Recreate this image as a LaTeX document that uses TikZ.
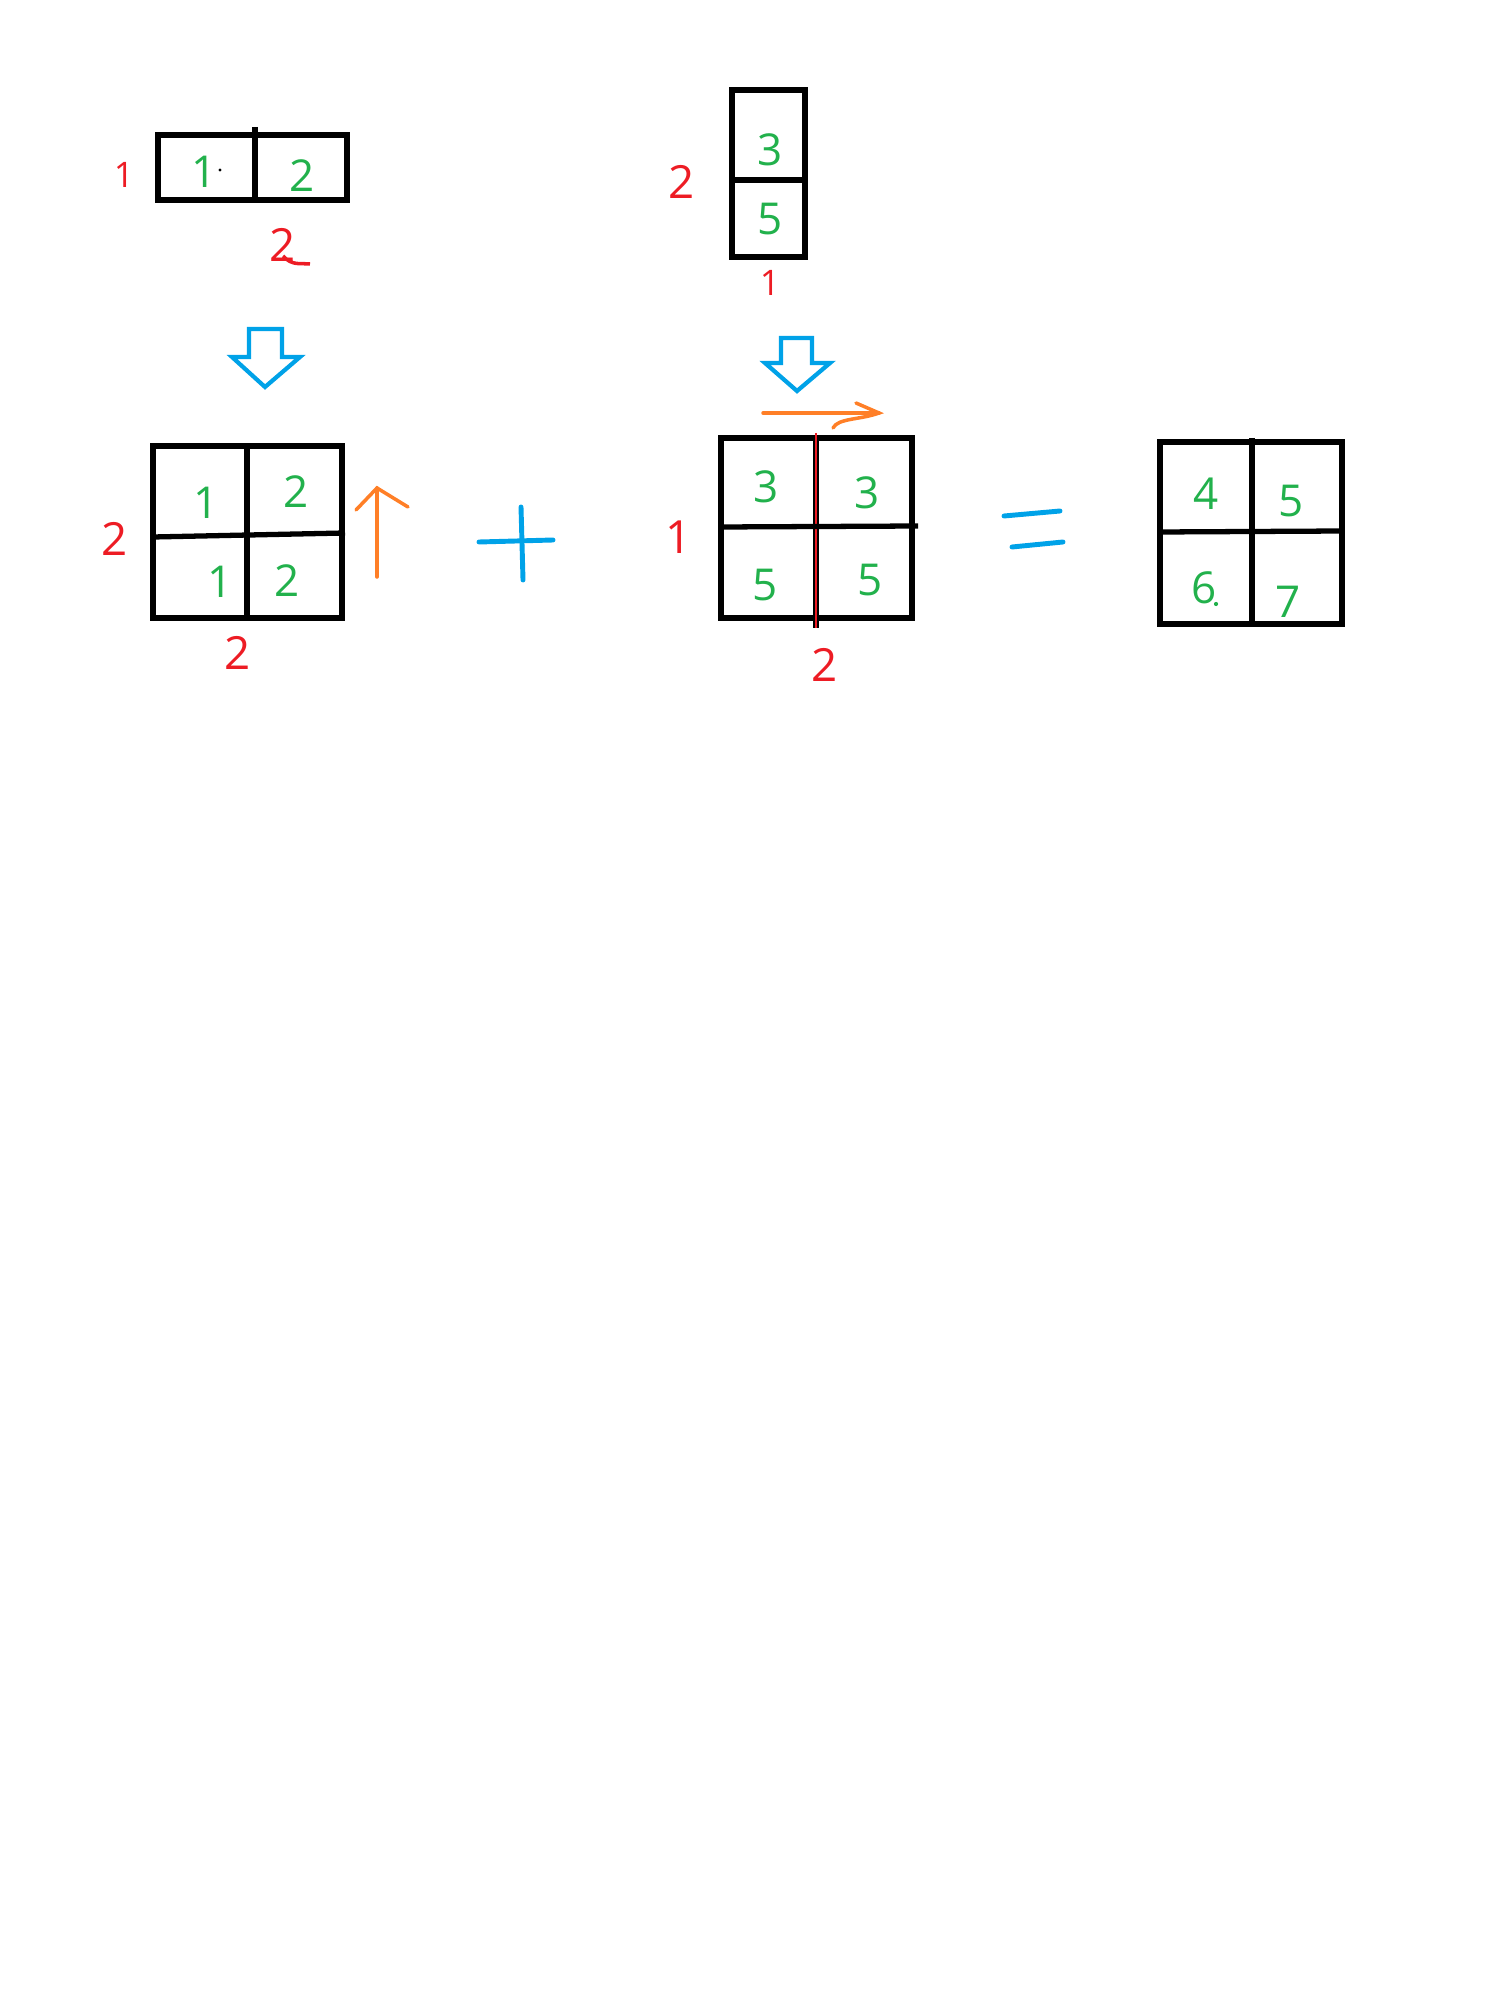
\documentclass[tikz,border=0pt]{standalone}
\usepackage{fontspec}
\setsansfont{Open Sans}
\usepackage{xcolor}
\usepackage{tikz}
\definecolor{paintgreen}{HTML}{22B14C}
\definecolor{paintred}{HTML}{ED1C24}
\definecolor{paintblue}{HTML}{00A2E8}
\definecolor{paintorange}{HTML}{FF7F27}

\begin{document}
\begin{tikzpicture}[
    x=0.01cm, y=-0.01cm,
    grid/.style={line width=1.5pt, black},
    num/.style={inner sep=0pt, text=paintgreen, font=\sffamily\fontsize{12.5}{14}\selectfont},
    dimlabel/.style={inner sep=0pt, text=paintred, font=\sffamily\fontsize{13}{15}\selectfont},
    bigarrow/.style={line width=1.2pt, draw=paintblue, line join=miter},
    hint/.style={line width=1pt, paintorange, line cap=round},
    op/.style={line width=1.4pt, paintblue, line cap=round}
  ]
    \useasboundingbox (0,0) rectangle (1500,1998);

    % Row vector 1x2
    \draw[grid] (158,135) rectangle (347,200);
    \draw[grid] (255,127) -- (255,200);
    \node[num] (a1) at (204,172) {1};
    \node[num] (a2) at (302,176) {2};
    \fill (220,170) circle (0.45pt);
    \node[dimlabel, font=\sffamily\fontsize{10}{12}\selectfont] (arows) at (124,175) {1};
    \node[dimlabel] (acols) at (283,245) {2};
    \draw[paintred, line width=1pt] (283,256) .. controls (292,266) and (300,263) .. (310,264);

    % Column vector 2x1
    \draw[grid] (732,90) rectangle (805,257);
    \draw[grid] (732,180) -- (805,180);
    \node[num] (b1) at (770,150) {3};
    \node[num] (b2) at (770,219) {5};
    \node[dimlabel] (brows) at (682,182) {2};
    \node[dimlabel, font=\sffamily\fontsize{10}{12}\selectfont] (bcols) at (770,283) {1};

    % Broadcast arrows — blue outline
    \draw[bigarrow] (249,329) -- (282,329) -- (282,357) -- (300,357) -- (265,387)
      -- (232,357) -- (249,357) -- cycle;
    \draw[bigarrow] (781,338) -- (812,338) -- (812,363) -- (830,363) -- (797,391)
      -- (765,363) -- (781,363) -- cycle;

    % Row vector stretched to 2x2
    \draw[grid] (153,446) rectangle (342,618);
    \draw[grid] (247,446) -- (247,618);
    \draw[grid] (153,537) -- (345,533);
    \node[num] (c11) at (206,503) {1};
    \node[num] (c12) at (296,492) {2};
    \node[num] (c21) at (220,582) {1};
    \node[num] (c22) at (287,581) {2};
    \node[dimlabel] (crows) at (115,539) {2};
    \node[dimlabel] (ccols) at (238,653) {2};
    \draw[hint] (377,577) -- (377,488);
    \draw[hint] (356,510) -- (377,488) -- (408,507);

    % Plus sign
    \draw[op] (479,542) -- (553,540);
    \draw[op] (521,507) -- (523,580);

    % Column vector stretched to 2x2
    \draw[grid] (721,438) rectangle (912,618);
    \draw[grid] (816,438) -- (816,628);
    \draw[paintred, line width=0.5pt] (816,433) -- (816,628);
    \draw[grid] (721,527) -- (918,526);
    \node[num] (d11) at (766,487) {3};
    \node[num] (d12) at (867,493) {3};
    \node[num] (d21) at (765,585) {5};
    \node[num] (d22) at (870,580) {5};
    \node[dimlabel] (drows) at (679,537) {1};
    \node[dimlabel] (dcols) at (825,665) {2};
    \draw[hint] (763,413) -- (879,413);
    \draw[hint] (856,403) -- (879,413) .. controls (860,420) and (838,418) .. (833,428);

    % Equals sign
    \draw[op] (1004,516) -- (1060,511);
    \draw[op] (1012,547) -- (1063,542);

    % Result 2x2
    \draw[grid] (1160,442) rectangle (1342,624);
    \draw[grid] (1252,438) -- (1252,624);
    \draw[grid] (1160,532) -- (1342,531);
    \node[num] (e11) at (1206,494) {4};
    \node[num] (e12) at (1291,501) {5};
    \node[num] (e21) at (1204,588) {6};
    \node[num] (e22) at (1288,602) {7};
    \fill[paintgreen] (1216,604) circle (0.6pt);
  \end{tikzpicture}
\end{document}
